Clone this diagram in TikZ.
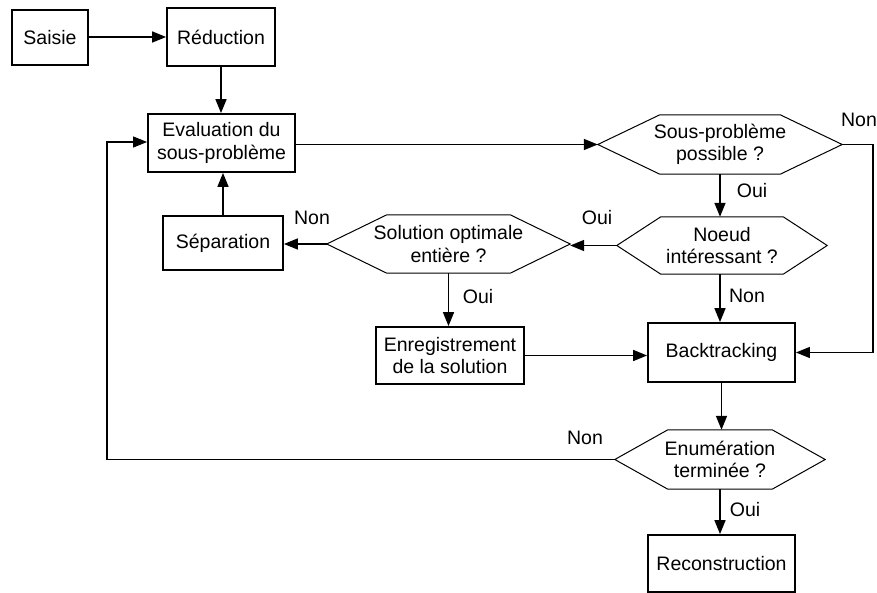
\documentclass[tikz,border=0pt]{standalone}
\usepackage{fontspec}
\setmainfont{Liberation Sans}
\usetikzlibrary{arrows.meta}

% draws a left/right pointing hexagon around a (borderless) node
\newcommand{\hexframe}[2]{%
  \draw[hexline] (#1.west) -- ([xshift=#2]#1.north west) -- ([xshift=-#2]#1.north east)
    -- (#1.east) -- ([xshift=-#2]#1.south east) -- ([xshift=#2]#1.south west) -- cycle;}

\begin{document}
\begin{tikzpicture}[x=1pt,y=-1pt,
  every node/.style={font=\fontsize{19.5}{22.5}\selectfont},
  boxnode/.style={draw,line width=1.8pt,align=center,inner sep=0pt},
  hexnode/.style={align=center,inner sep=0pt},
  hexline/.style={line width=1pt,line join=miter},
  conn/.style={line width=1.6pt,-{Triangle[length=14pt,width=11pt]}},
  thinconn/.style={line width=1.1pt,-{Triangle[length=14pt,width=11pt]}},
  lbl/.style={inner sep=0pt}]
\useasboundingbox (0,0) rectangle (877,593);

% process boxes
\node[boxnode,minimum width=76pt,minimum height=55pt] (sai) at (50,37.5) {Saisie};
\node[boxnode,minimum width=108pt,minimum height=58pt] (red) at (221,37) {Réduction};
\node[boxnode,minimum width=147pt,minimum height=58pt] (eval) at (221.5,143) {Evaluation du\\sous-problème};
\node[boxnode,minimum width=120pt,minimum height=54pt] (sep) at (223,243) {Séparation};
\node[boxnode,minimum width=148pt,minimum height=57pt] (enr) at (450,355.5) {Enregistrement\\de la solution};
\node[boxnode,minimum width=147pt,minimum height=59pt] (bt) at (721.5,352.5) {Backtracking};
\node[boxnode,minimum width=147pt,minimum height=57pt] (rec) at (721.5,563.5) {Reconstruction};

% decision hexagons
\node[hexnode,minimum width=244pt,minimum height=59pt] (sp) at (720,144.5) {Sous-problème\\possible ?};
\hexframe{sp}{62pt}
\node[hexnode,minimum width=210pt,minimum height=57pt] (nd) at (722,245.5) {Noeud\\intéressant ?};
\hexframe{nd}{44pt}
\node[hexnode,minimum width=243pt,minimum height=58pt] (sol) at (448.5,244) {Solution optimale\\entière ?};
\hexframe{sol}{60pt}
\node[hexnode,minimum width=210pt,minimum height=59pt] (en) at (720,459.5) {Enumération\\terminée ?};
\hexframe{en}{53pt}

% auxiliary corner points
\coordinate (rc) at (873,146);
\coordinate (lc) at (107,142);

% connectors
\draw[conn] (sai.east |- red.west) -- (red.west);
\draw[conn] (red.south) -- (red.south |- eval.north);
\draw[conn] (eval.east |- sp.west) -- (sp.west);
\draw[conn] (sp.south) -- (sp.south |- nd.north);
\draw[conn] (nd.west) -- (sol.east |- nd.west);
\draw[conn] (sp.south |- nd.south) -- (sp.south |- bt.north);
\draw[conn] (sol.west) -- (sol.west -| sep.east);
\draw[conn] (sep.north) -- (sep.north |- eval.south);
\draw[conn] (sol.south) -- (sol.south |- enr.north);
\draw[conn] (enr.east) -- (enr.east -| bt.west);
\draw[thinconn] (sp.east) -- (sp.east -| rc) |- (bt.east);
\draw[conn] (bt.south) -- (bt.south |- en.north);
\draw[conn] (en.south) -- (en.south |- rec.north);
\draw[thinconn] (en.west) -- (en.west -| lc) -- (lc) -- (eval.west |- lc);

% branch labels
\node[lbl] (l1) at (859,120) {Non};
\node[lbl] (l2) at (752,191) {Oui};
\node[lbl] (l3) at (597,218) {Oui};
\node[lbl] (l4) at (747,296) {Non};
\node[lbl] (l5) at (312,218) {Non};
\node[lbl] (l6) at (478,297) {Oui};
\node[lbl] (l7) at (585,438) {Non};
\node[lbl] (l8) at (745,510) {Oui};
\end{tikzpicture}
\end{document}
